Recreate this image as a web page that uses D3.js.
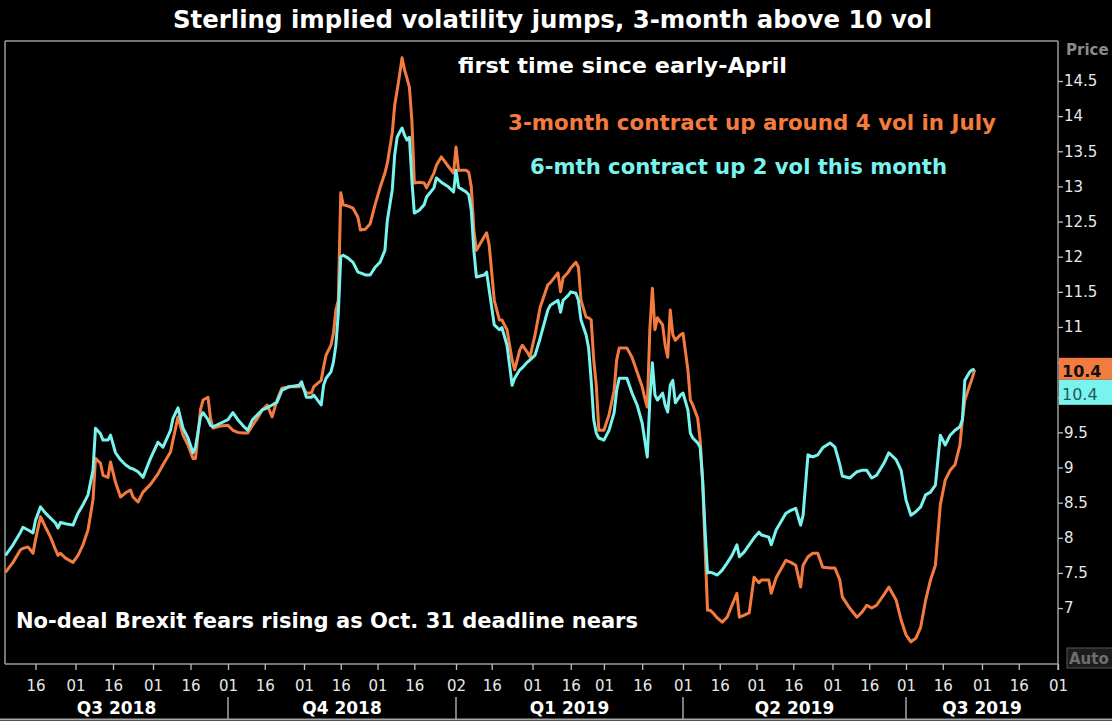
<!DOCTYPE html>
<html><head><meta charset="utf-8">
<script src="https://cdn.jsdelivr.net/npm/d3@7"></script>
<style>
html,body{margin:0;padding:0;background:#000;}
svg{display:block;}
</style></head>
<body>
<svg id="chart" width="1112" height="721"></svg>
<script>
// ---------- DATA ----------
const dates = [
"2018-07-04","2018-07-07","2018-07-10","2018-07-11","2018-07-13","2018-07-15","2018-07-16","2018-07-18","2018-07-20","2018-07-22",
"2018-07-24","2018-07-25","2018-07-26","2018-07-28","2018-07-31","2018-08-02","2018-08-04","2018-08-06","2018-08-08","2018-08-09",
"2018-08-11","2018-08-12","2018-08-14","2018-08-15","2018-08-17","2018-08-19","2018-08-21","2018-08-23","2018-08-24","2018-08-26",
"2018-08-28","2018-08-31","2018-09-03","2018-09-05","2018-09-08","2018-09-09","2018-09-11","2018-09-13","2018-09-15","2018-09-17",
"2018-09-18","2018-09-20","2018-09-21","2018-09-23","2018-09-24","2018-09-25","2018-09-28","2018-10-01","2018-10-03","2018-10-05",
"2018-10-07","2018-10-09","2018-10-11","2018-10-13","2018-10-15","2018-10-17","2018-10-19","2018-10-21","2018-10-23","2018-10-26",
"2018-10-30","2018-10-31","2018-11-02","2018-11-04","2018-11-05","2018-11-08","2018-11-09","2018-11-10","2018-11-12","2018-11-13",
"2018-11-14","2018-11-15","2018-11-16","2018-11-17","2018-11-19","2018-11-21","2018-11-23","2018-11-24","2018-11-26","2018-11-28",
"2018-11-30","2018-12-02","2018-12-04","2018-12-05","2018-12-07","2018-12-08","2018-12-09","2018-12-10","2018-12-11","2018-12-12",
"2018-12-13","2018-12-14","2018-12-15","2018-12-16","2018-12-18","2018-12-20","2018-12-21","2018-12-24","2018-12-25","2018-12-27",
"2018-12-30","2019-01-01","2019-01-02","2019-01-03","2019-01-06","2019-01-07","2019-01-08","2019-01-09","2019-01-10","2019-01-13",
"2019-01-14","2019-01-15","2019-01-17","2019-01-19","2019-01-20","2019-01-22","2019-01-24","2019-01-25","2019-01-27","2019-01-28",
"2019-01-30","2019-01-31","2019-02-02","2019-02-04","2019-02-07","2019-02-08","2019-02-11","2019-02-12","2019-02-13","2019-02-15",
"2019-02-16","2019-02-18","2019-02-19","2019-02-20","2019-02-22","2019-02-23","2019-02-24","2019-02-25","2019-02-26","2019-02-27",
"2019-03-01","2019-03-03","2019-03-05","2019-03-06","2019-03-07","2019-03-10","2019-03-12","2019-03-14","2019-03-16","2019-03-17",
"2019-03-18","2019-03-19","2019-03-20","2019-03-21","2019-03-22","2019-03-24","2019-03-25","2019-03-26","2019-03-27","2019-03-28",
"2019-03-29","2019-03-31","2019-04-01","2019-04-03","2019-04-04","2019-04-05","2019-04-07","2019-04-08","2019-04-09","2019-04-10",
"2019-04-11","2019-04-12","2019-04-13","2019-04-15","2019-04-17","2019-04-19","2019-04-21","2019-04-23","2019-04-24","2019-04-26",
"2019-04-28","2019-04-30","2019-05-02","2019-05-03","2019-05-06","2019-05-07","2019-05-09","2019-05-13","2019-05-15","2019-05-17",
"2019-05-19","2019-05-20","2019-05-22","2019-05-24","2019-05-26","2019-05-28","2019-05-31","2019-06-02","2019-06-04","2019-06-05",
"2019-06-08","2019-06-11","2019-06-13","2019-06-15","2019-06-17","2019-06-19","2019-06-22","2019-06-24","2019-06-27","2019-06-29",
"2019-07-01","2019-07-03","2019-07-05","2019-07-07","2019-07-09","2019-07-11","2019-07-13","2019-07-15","2019-07-17","2019-07-19",
"2019-07-21","2019-07-23","2019-07-24","2019-07-25","2019-07-27","2019-07-28","2019-07-29"
];
const vol3m = [
7.51,7.65,7.83,7.85,7.87,7.78,7.97,8.30,8.15,8.01,
7.83,7.75,7.78,7.71,7.65,7.75,7.90,8.11,8.54,9.13,
9.06,8.89,8.86,9.08,8.79,8.58,8.64,8.68,8.58,8.51,
8.65,8.76,8.91,9.04,9.22,9.39,9.72,9.46,9.32,9.13,
9.13,9.82,9.96,10.00,9.70,9.56,9.59,9.60,9.53,9.50,
9.49,9.49,9.60,9.70,9.82,9.89,9.72,9.96,10.13,10.15,
10.15,10.17,10.06,10.06,10.15,10.24,10.43,10.60,10.74,10.91,
11.24,11.38,12.91,12.74,12.72,12.69,12.56,12.38,12.39,12.47,
12.74,12.98,13.19,13.33,13.76,14.16,14.37,14.59,14.83,14.66,
14.54,14.41,13.94,13.05,13.06,13.05,12.98,13.19,13.30,13.42,
13.28,13.19,13.56,13.23,13.23,13.20,12.99,12.38,12.09,12.28,
12.34,12.17,11.38,11.10,11.10,10.96,10.53,10.39,10.67,10.74,
10.64,10.57,10.89,11.28,11.60,11.63,11.77,11.50,11.70,11.78,
11.84,11.92,11.85,11.38,11.14,11.13,11.10,10.53,10.17,9.53,
9.53,9.75,10.10,10.53,10.70,10.70,10.57,10.36,10.15,9.99,
9.86,10.96,11.55,10.96,11.13,11.03,10.74,10.57,11.24,10.89,
10.81,10.89,10.91,10.39,9.96,9.89,9.70,9.39,8.82,7.87,
6.97,6.97,6.94,6.86,6.80,6.87,7.04,7.21,6.87,6.90,
6.93,7.44,7.36,7.40,7.40,7.21,7.43,7.68,7.65,7.61,
7.30,7.61,7.73,7.78,7.78,7.58,7.57,7.57,7.40,7.16,
7.00,6.87,6.94,7.04,7.00,7.04,7.19,7.30,7.11,6.83,
6.62,6.52,6.57,6.73,7.11,7.40,7.61,8.47,8.82,8.96,
9.04,9.32,9.68,9.96,10.17,10.27,10.39
];
const vol6m = [
7.75,7.90,8.08,8.15,8.11,8.07,8.25,8.44,8.35,8.28,
8.21,8.14,8.22,8.20,8.18,8.35,8.47,8.61,8.96,9.56,
9.48,9.39,9.39,9.46,9.21,9.11,9.04,8.99,8.98,8.94,
8.86,9.13,9.36,9.29,9.53,9.70,9.85,9.56,9.42,9.21,
9.29,9.72,9.78,9.68,9.60,9.58,9.63,9.68,9.78,9.68,
9.60,9.53,9.68,9.75,9.82,9.85,9.89,9.93,10.10,10.15,
10.17,10.22,10.00,10.00,10.03,9.89,10.17,10.27,10.36,10.50,
10.74,11.20,12.00,12.02,11.98,11.92,11.78,11.77,11.74,11.74,
11.85,11.92,12.09,12.52,12.95,13.45,13.70,13.77,13.83,13.73,
13.66,13.70,13.09,12.62,12.66,12.74,12.85,12.98,13.12,13.06,
12.99,12.92,13.23,12.99,12.92,12.88,12.66,12.09,11.71,11.74,
11.78,11.53,11.03,10.96,10.99,10.74,10.17,10.27,10.39,10.42,
10.50,10.53,10.60,10.84,11.24,11.31,11.38,11.21,11.38,11.45,
11.50,11.48,11.38,11.10,10.89,10.70,10.24,9.68,9.49,9.42,
9.39,9.53,9.78,10.10,10.27,10.27,10.06,9.89,9.63,9.39,
9.15,9.96,10.49,10.03,9.96,10.06,9.89,9.79,10.17,10.24,
9.92,10.03,10.06,9.82,9.49,9.42,9.35,9.29,8.82,8.11,
7.50,7.51,7.50,7.47,7.54,7.64,7.75,7.90,7.73,7.80,
7.90,8.00,8.08,8.04,8.01,7.90,8.11,8.35,8.39,8.42,
8.18,8.32,9.18,9.15,9.18,9.28,9.35,9.29,9.04,8.88,
8.85,8.94,8.96,8.96,8.85,8.89,9.06,9.21,9.11,8.96,
8.54,8.32,8.37,8.44,8.61,8.65,8.75,9.46,9.32,9.46,
9.53,9.58,9.68,10.24,10.36,10.39,10.40
];
const yTickValues = [7,7.5,8,8.5,9,9.5,10,10.5,11,11.5,12,12.5,13,13.5,14,14.5];
const xTickDates = ["2018-07-16","2018-08-01","2018-08-16","2018-09-01","2018-09-16","2018-10-01","2018-10-16","2018-11-01",
  "2018-11-16","2018-12-01","2018-12-16","2019-01-02","2019-01-16","2019-02-01","2019-02-16","2019-03-01","2019-03-16",
  "2019-04-01","2019-04-16","2019-05-01","2019-05-16","2019-06-01","2019-06-16","2019-07-01","2019-07-16","2019-08-01",
  "2019-08-16","2019-09-01"];
const xAnchorDates = ["2018-07-01","2018-10-01","2019-01-02","2019-04-01","2019-07-01","2019-09-01"];
const quarterNames = ["Q3 2018","Q4 2018","Q1 2019","Q2 2019","Q3 2019"];
const titleText = "Sterling implied volatility jumps, 3-month above 10 vol";
const noteTexts = ["first time since early-April","3-month contract up around 4 vol in July",
  "6-mth contract up 2 vol this month","No-deal Brexit fears rising as Oct. 31 deadline nears"];

// ---------- LAYOUT ----------
const W = 1112, H = 721;
const L = 5, R = 1058, T = 41, B = 664;
const ORANGE = "#f47b3f", CYAN = "#78f3ee";
const FONT = "'DejaVu Sans', Verdana, sans-serif";

const parse = d3.timeParse("%Y-%m-%d");
const svg = d3.select("#chart");
svg.append("rect").attr("width", W).attr("height", H).attr("fill", "#000");

const x = d3.scaleTime()
  .domain(xAnchorDates.map(parse))
  .range([-2, 228, 456, 683, 906, 1058]);
const y = d3.scaleLinear().domain([6.5, 14.5]).range([643.2, 81]);

const s3 = dates.map((d, i) => ({date: parse(d), v: vol3m[i]}));
const s6 = dates.map((d, i) => ({date: parse(d), v: vol6m[i]}));
const last3 = vol3m[vol3m.length - 1], last6 = vol6m[vol6m.length - 1];

// clip
svg.append("defs").append("clipPath").attr("id", "plotclip")
  .append("rect").attr("x", L).attr("y", T).attr("width", R - L).attr("height", B - T);

// title
svg.append("text").attr("x", 552.5).attr("y", 28).attr("text-anchor", "middle")
  .attr("font-family", FONT).attr("font-weight", "bold").attr("font-size", 25)
  .attr("fill", "#fff").attr("textLength", 759).attr("lengthAdjust", "spacingAndGlyphs")
  .text(titleText);

// frame
const frame = svg.append("g").attr("stroke", "#9d9d9d").attr("stroke-width", 1.5).attr("fill", "none");
frame.append("line").attr("x1", L).attr("x2", R).attr("y1", T).attr("y2", T);
frame.append("line").attr("x1", L).attr("x2", L).attr("y1", T).attr("y2", B);
frame.append("line").attr("x1", L).attr("x2", R).attr("y1", B).attr("y2", B);
frame.append("line").attr("x1", R).attr("x2", R).attr("y1", T).attr("y2", B + 6);

// lines
const line = d3.line().x(d => x(d.date)).y(d => y(d.v));
const plot = svg.append("g").attr("clip-path", "url(#plotclip)");
plot.append("path").datum(s3).attr("d", line).attr("fill", "none")
  .attr("stroke", ORANGE).attr("stroke-width", 3).attr("stroke-linejoin", "round");
plot.append("path").datum(s6).attr("d", line).attr("fill", "none")
  .attr("stroke", CYAN).attr("stroke-width", 3).attr("stroke-linejoin", "round");

// annotations
const notePos = [
  {x: 622.5, y: 73, w: 329, c: "#ffffff"},
  {x: 752, y: 130, w: 488, c: ORANGE},
  {x: 738.5, y: 174, w: 417, c: CYAN},
  {x: 327, y: 628, w: 622, c: "#ffffff"}
];
noteTexts.forEach((t, i) => {
  const p = notePos[i];
  svg.append("text").attr("x", p.x).attr("y", p.y).attr("text-anchor", "middle")
    .attr("font-family", FONT).attr("font-weight", "bold").attr("font-size", 21)
    .attr("fill", p.c).attr("textLength", p.w).attr("lengthAdjust", "spacingAndGlyphs")
    .text(t);
});

// right axis (labels covered by the last-value boxes are left blank)
const oy = y(last3);
const yAxis = svg.append("g").attr("transform", `translate(${R},0)`)
  .call(d3.axisRight(y).tickValues(yTickValues).tickSize(5).tickPadding(1)
    .tickFormat(d => (Math.abs(y(d) - oy) < 36 ? "" : d3.format("~g")(d))));
yAxis.select(".domain").remove();
yAxis.selectAll(".tick line").attr("stroke", "#bdbdbd").attr("stroke-width", 1.3);
yAxis.selectAll(".tick text").attr("fill", "#e8e8e8").attr("font-family", FONT).attr("font-size", 15);

// bottom axis
const xAxis = svg.append("g").attr("transform", `translate(0,${B})`)
  .call(d3.axisBottom(x).tickValues(xTickDates.map(parse)).tickSize(6).tickPadding(10)
    .tickFormat(d3.timeFormat("%d")));
xAxis.select(".domain").remove();
xAxis.selectAll(".tick line").attr("stroke", "#bdbdbd").attr("stroke-width", 1.3);
xAxis.selectAll(".tick text").attr("fill", "#e8e8e8").attr("font-family", FONT).attr("font-size", 15);

// quarter labels & separators
const qEdges = xAnchorDates.map(parse).map(d => x(d));
qEdges[0] = L;
quarterNames.forEach((q, i) => {
  svg.append("text").attr("x", (qEdges[i] + qEdges[i + 1]) / 2).attr("y", 714)
    .attr("text-anchor", "middle").attr("font-family", FONT).attr("font-weight", "bold")
    .attr("font-size", 17).attr("fill", "#fff").text(q);
});
qEdges.slice(1, 5).forEach(px => {
  svg.append("line").attr("x1", px).attr("x2", px).attr("y1", 697).attr("y2", 719)
    .attr("stroke", "#d0d0d0").attr("stroke-width", 1.2);
});
svg.append("line").attr("x1", 0).attr("x2", W).attr("y1", 719.5).attr("y2", 719.5)
  .attr("stroke", "#a8a8a8").attr("stroke-width", 2);

// last value boxes
const fmt = d3.format(".1f");
svg.append("rect").attr("x", R + 1).attr("y", oy - 12).attr("width", W - R - 1).attr("height", 22).attr("fill", ORANGE);
svg.append("text").attr("x", R + 4).attr("y", oy + 7).attr("font-family", FONT).attr("font-weight", "bold")
  .attr("font-size", 16).attr("fill", "#111").text(fmt(last3));
svg.append("rect").attr("x", R + 1).attr("y", oy + 10).attr("width", W - R - 1).attr("height", 25).attr("fill", CYAN);
svg.append("text").attr("x", R + 4).attr("y", oy + 30).attr("font-family", FONT)
  .attr("font-size", 16).attr("fill", "#1e5a5a").text(fmt(last6));

// Price / Auto labels
svg.append("text").attr("x", 1066).attr("y", 55).attr("font-family", FONT).attr("font-weight", "bold")
  .attr("font-size", 15).attr("fill", "#8a8a8a").text("Price");
svg.append("rect").attr("x", 1067).attr("y", 648).attr("width", 46).attr("height", 20)
  .attr("fill", "#1c1c1c").attr("stroke", "#555");
svg.append("text").attr("x", 1069).attr("y", 664).attr("font-family", FONT).attr("font-weight", "bold")
  .attr("font-size", 15).attr("fill", "#6e6e6e").text("Auto");
</script>
</body></html>
